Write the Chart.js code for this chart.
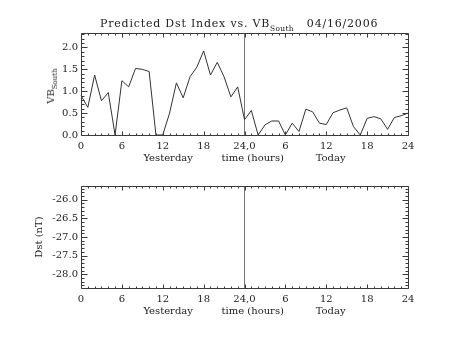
<!DOCTYPE html>
<html><head><meta charset="utf-8">
<script src="https://cdn.jsdelivr.net/npm/chart.js@4.4.1/dist/chart.umd.min.js"></script>
<style>
html,body{margin:0;padding:0;background:#fff;}
#wrap{position:relative;width:453px;height:340px;overflow:hidden;font-family:'DejaVu Serif',serif;color:#222;}
canvas{position:absolute;left:0;}
#c1{top:0}#c2{top:170px}
#title{position:absolute;left:100px;top:17px;font-size:11px;letter-spacing:0.8px;white-space:pre;line-height:13px;}
#title sub{font-size:7.5px;letter-spacing:0.3px;vertical-align:-4px;line-height:0}
#ylab{position:absolute;left:51px;top:86px;width:0;height:0;}
#ylab span{position:absolute;left:0;top:0;transform:translate(-50%,-50%) rotate(-90deg);white-space:nowrap;font-size:10px;line-height:12px;}
#ylab sub{font-size:7px;vertical-align:-3px;line-height:0}
</style></head><body>
<div id="wrap">
<canvas id="c1" width="453" height="170"></canvas>
<canvas id="c2" width="453" height="170"></canvas>
<div id="title">Predicted Dst Index vs. VB<sub>South</sub>   04/16/2006</div>
<div id="ylab"><span>VB<sub>South</sub></span></div>
</div>
<script>
// ---- data ----
const hours = [0,1,2,3,4,5,6,7,8,9,10,11,12,13,14,15,16,17,18,19,20,21,22,23,24,
               25,26,27,28,29,30,31,32,33,34,35,36,37,38,39,40,41,42,43,44,45,46,47,48];
const vbSouth = [0.90,0.63,1.37,0.78,0.97,0.00,1.24,1.10,1.52,1.50,1.45,0.00,0.00,0.50,1.19,0.85,1.33,1.55,1.92,1.37,1.66,1.33,0.87,1.10,0.35,
                 0.56,0.00,0.23,0.32,0.32,0.00,0.27,0.08,0.59,0.53,0.27,0.24,0.51,0.57,0.62,0.19,0.00,0.38,0.42,0.37,0.13,0.40,0.44,0.50];
const dstHours = [];
const dstValues = [];
const xTickLabels = ['0','6','12','18','24,0','6','12','18','24'];
const xTitle = 'Yesterday         time (hours)          Today';
const vbRange = [0, 2.33];
const dstRange = [-28.37, -25.63];

const FONT = 'DejaVu Serif';
const TXT = '#222';
const TICKS = { color: '#3a3a3a', xMinor: 1, xMajor: 6, xLen: 4, yMinor: 0.1, yMajor: 0.5, yLen: 6 };

function makeFrame(o) {
  return {
    id: 'frameTicks',
    afterDraw(chart) {
      const ctx = chart.ctx, a = chart.chartArea, x = chart.scales.x, y = chart.scales.y;
      ctx.save();
      ctx.setLineDash([]);
      ctx.strokeStyle = o.color; ctx.lineWidth = 1;
      ctx.beginPath();
      const L = a.left + 0.5, R = a.right + 0.5, T = a.top + 0.5, B = a.bottom + 0.5;
      ctx.rect(L, T, R - L, B - T);
      const seg = (x1, y1, x2, y2) => { ctx.moveTo(x1, y1); ctx.lineTo(x2, y2); };
      const k0 = Math.ceil(x.min / o.xMinor - 1e-9), k1 = Math.floor(x.max / o.xMinor + 1e-9);
      for (let k = k0; k <= k1; k++) {
        const v = k * o.xMinor;
        const major = Math.abs(v / o.xMajor - Math.round(v / o.xMajor)) < 1e-6;
        const len = major ? o.xLen : o.xLen / 2;
        const px = Math.round(x.getPixelForValue(v)) + 0.5;
        seg(px, B, px, B - len); seg(px, T, px, T + len);
      }
      const j0 = Math.ceil(y.min / o.yMinor - 1e-9), j1 = Math.floor(y.max / o.yMinor + 1e-9);
      for (let k = j0; k <= j1; k++) {
        const v = k * o.yMinor;
        const major = Math.abs(v / o.yMajor - Math.round(v / o.yMajor)) < 1e-6;
        const len = major ? o.yLen : o.yLen / 2;
        const py = Math.round(y.getPixelForValue(v)) + 0.5;
        seg(L, py, L + len, py); seg(R, py, R - len, py);
      }
      ctx.stroke();
      ctx.restore();
    }
  };
}

function makeChart(id, cfg) {
  return new Chart(document.getElementById(id), {
    type: 'line',
    data: { datasets: [{
      data: cfg.xs.map((h, i) => ({x: h, y: cfg.ys[i]})),
      borderColor: '#333', borderWidth: 1, pointRadius: 0, tension: 0, fill: false, clip: 2
    }]},
    options: {
      animation: false, responsive: false, devicePixelRatio: 1,
      layout: { padding: { left: 0, top: cfg.top, right: 45, bottom: 0 } },
      plugins: { legend: { display: false }, tooltip: { enabled: false }, title: { display: false } },
      scales: {
        x: {
          type: 'linear', min: 0, max: 48, position: 'bottom',
          afterFit: s => { s.height = cfg.xHeight; },
          ticks: { stepSize: 6, autoSkip: false, maxRotation: 0, minRotation: 0, padding: 5, color: TXT,
                   font: { family: FONT, size: 10 }, callback: v => xTickLabels[Math.round(v / 6)] },
          grid: { drawTicks: false, drawOnChartArea: true, lineWidth: 1,
                  color: c => (c.tick && c.tick.value === 24) ? '#777' : 'rgba(0,0,0,0)' },
          border: { display: false },
          title: { display: true, text: xTitle, color: TXT, font: { family: FONT, size: 10 },
                   padding: { top: 0, bottom: cfg.xTitlePad } }
        },
        y: {
          type: 'linear', min: cfg.yr[0], max: cfg.yr[1],
          afterFit: s => { s.width = 81; },
          ticks: { stepSize: 0.5, includeBounds: false, padding: 3, color: TXT,
                   font: { family: FONT, size: 10 }, callback: v => Number(v).toFixed(1) },
          grid: { display: false, drawTicks: false },
          border: { display: false },
          title: cfg.yTitle ? { display: true, text: cfg.yTitle, color: TXT, font: { family: FONT, size: 10 },
                   padding: { top: 33, bottom: 0 } } : { display: false }
        }
      }
    },
    plugins: [makeFrame(TICKS)]
  });
}

makeChart('c1', { xs: hours, ys: vbSouth, yr: vbRange, top: 33, xHeight: 35, xTitlePad: 6, yTitle: null });
makeChart('c2', { xs: dstHours, ys: dstValues, yr: dstRange, top: 16, xHeight: 52, xTitlePad: 23, yTitle: 'Dst (nT)' });
</script>
</body></html>
